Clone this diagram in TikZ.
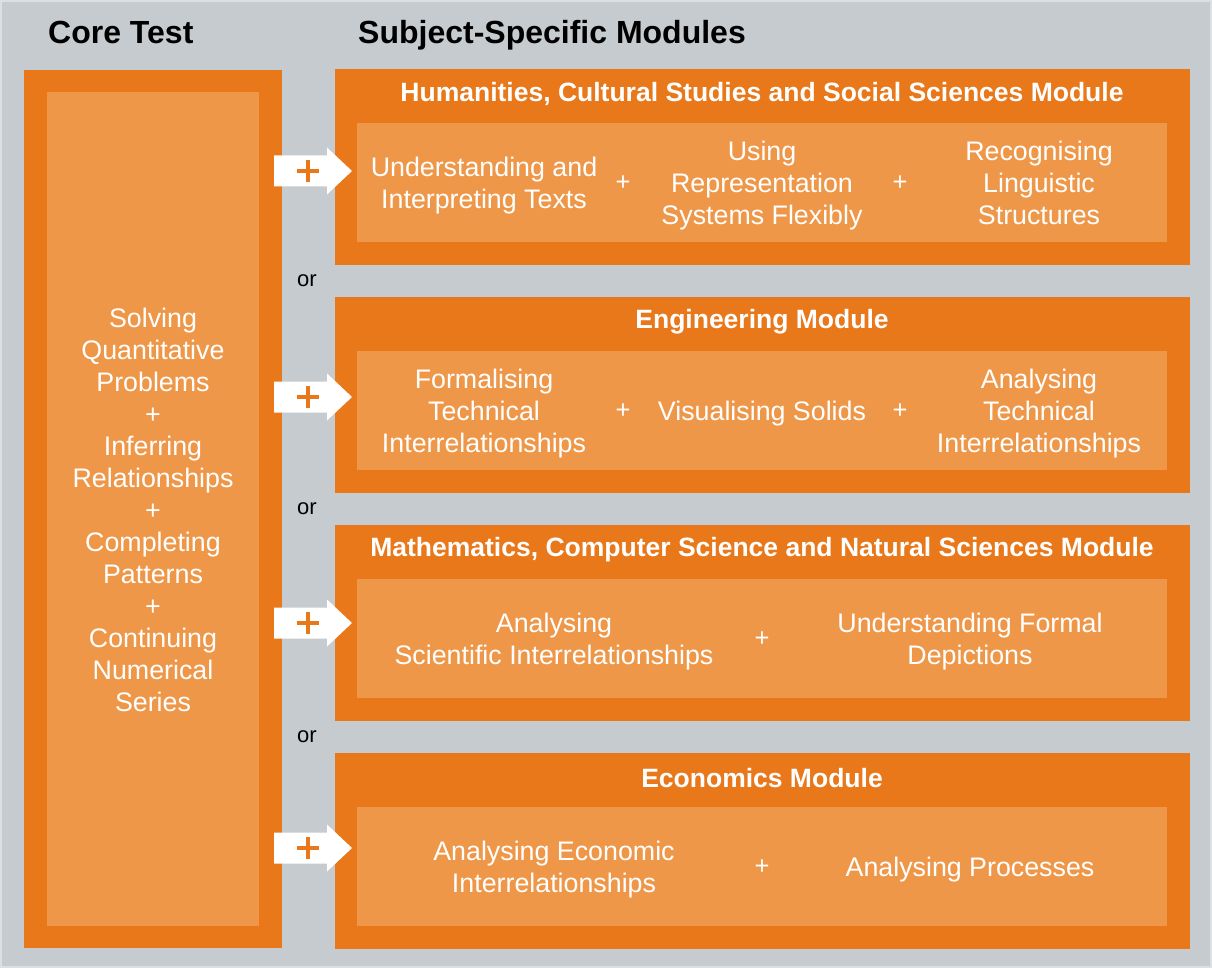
\documentclass[tikz,border=0pt]{standalone}
\usepackage{fontspec}
\setmainfont{Liberation Sans}
\definecolor{bgray}{HTML}{C6CBCF}
\definecolor{edgegray}{HTML}{DDE0E3}
\definecolor{dorange}{HTML}{E8781A}
\definecolor{lorange}{HTML}{EF9748}
\tikzset{
  outerbox/.style={fill=dorange, draw=none, inner sep=0pt, outer sep=0pt, anchor=north west},
  innerbox/.style={fill=lorange, draw=none, inner sep=0pt, outer sep=0pt, anchor=north west},
  body/.style={text=white, align=center, inner sep=0pt, font=\fontsize{26.8}{32}\selectfont},
  plustxt/.style={text=white, inner sep=0pt, font=\fontsize{25.5}{32}\selectfont},
  modhead/.style={text=white, inner sep=0pt, font=\fontsize{26.5}{30}\selectfont\bfseries},
  title/.style={text=black, inner sep=0pt, anchor=base west, font=\fontsize{32}{36}\selectfont\bfseries},
  ortxt/.style={text=black, inner sep=0pt, font=\fontsize{22}{26}\selectfont},
  arrowshape/.style={fill=white, draw=none},
  plusbar/.style={draw=dorange, line width=4.2pt},
}
\begin{document}
\begin{tikzpicture}[x=1pt,y=-1pt]
\fill[edgegray] (0,0) rectangle (1212,968);
\fill[bgray] (2,2) rectangle (1210,966);
\useasboundingbox (0,0) rectangle (1212,968);

% titles
\node[title] (tcore) at (48,43.5) {Core Test};
\node[title] (tmod) at (358,43.5) {Subject-Specific Modules};

% core test
\node[outerbox, minimum width=258pt, minimum height=878pt] (core) at (24,70) {};
\node[innerbox, minimum width=212pt, minimum height=834pt] (corein) at (47,92) {};
\node[body] (coretext) at (153,510) {Solving\\Quantitative\\Problems\\+\\Inferring\\Relationships\\+\\Completing\\Patterns\\+\\Continuing\\Numerical\\Series};

% modules
\foreach \i/\t in {1/69, 2/297, 3/525, 4/753} {
  \node[outerbox, minimum width=855pt, minimum height=196pt] (mod\i) at (335,\t) {};
  \node[innerbox, minimum width=810pt, minimum height=119pt] (modin\i) at (357,\t+54) {};
}

% headings
\node[modhead] (h1) at (762,94) {Humanities, Cultural Studies and Social Sciences Module};
\node[modhead] (h2) at (762,322) {Engineering Module};
\node[modhead] (h3) at (762,550) {Mathematics, Computer Science and Natural Sciences Module};
\node[modhead] (h4) at (762,778) {Economics Module};

% module 1
\node[body] (m1a) at (484,186) {Understanding and\\Interpreting Texts};
\node[plustxt] (m1p1) at (623,183) {+};
\node[body] (m1b) at (762,186) {Using\\Representation\\Systems Flexibly};
\node[plustxt] (m1p2) at (900,183) {+};
\node[body] (m1c) at (1039,183) {Recognising\\Linguistic\\Structures};

% module 2
\node[body] (m2a) at (484,414) {Formalising\\Technical\\Interrelationships};
\node[plustxt] (m2p1) at (623,411) {+};
\node[body] (m2b) at (762,414) {Visualising Solids};
\node[plustxt] (m2p2) at (900,411) {+};
\node[body] (m2c) at (1039,414) {Analysing\\Technical\\Interrelationships};

% module 3
\node[body] (m3a) at (554,642) {Analysing\\Scientific Interrelationships};
\node[plustxt] (m3p1) at (762,639) {+};
\node[body] (m3b) at (970,642) {Understanding Formal\\Depictions};

% module 4
\node[body] (m4a) at (554,870) {Analysing Economic\\Interrelationships};
\node[plustxt] (m4p1) at (762,867) {+};
\node[body] (m4b) at (970,870) {Analysing Processes};

% or labels
\node[ortxt] (or1) at (307,281) {or};
\node[ortxt] (or2) at (307,509) {or};
\node[ortxt] (or3) at (307,737) {or};

% arrows with plus
\foreach \i/\y in {1/171, 2/397, 3/623, 4/848} {
  \fill[arrowshape] (274,\y-15.5) -- (327,\y-15.5) -- (327,\y-23.5) -- (352,\y) -- (327,\y+23.5) -- (327,\y+15.5) -- (274,\y+15.5) -- cycle;
  \coordinate (pc\i) at (308,\y);
  \draw[plusbar] ([xshift=-11pt]pc\i) -- ([xshift=11pt]pc\i);
  \draw[plusbar] ([yshift=-11pt]pc\i) -- ([yshift=11pt]pc\i);
}
\end{tikzpicture}
\end{document}
